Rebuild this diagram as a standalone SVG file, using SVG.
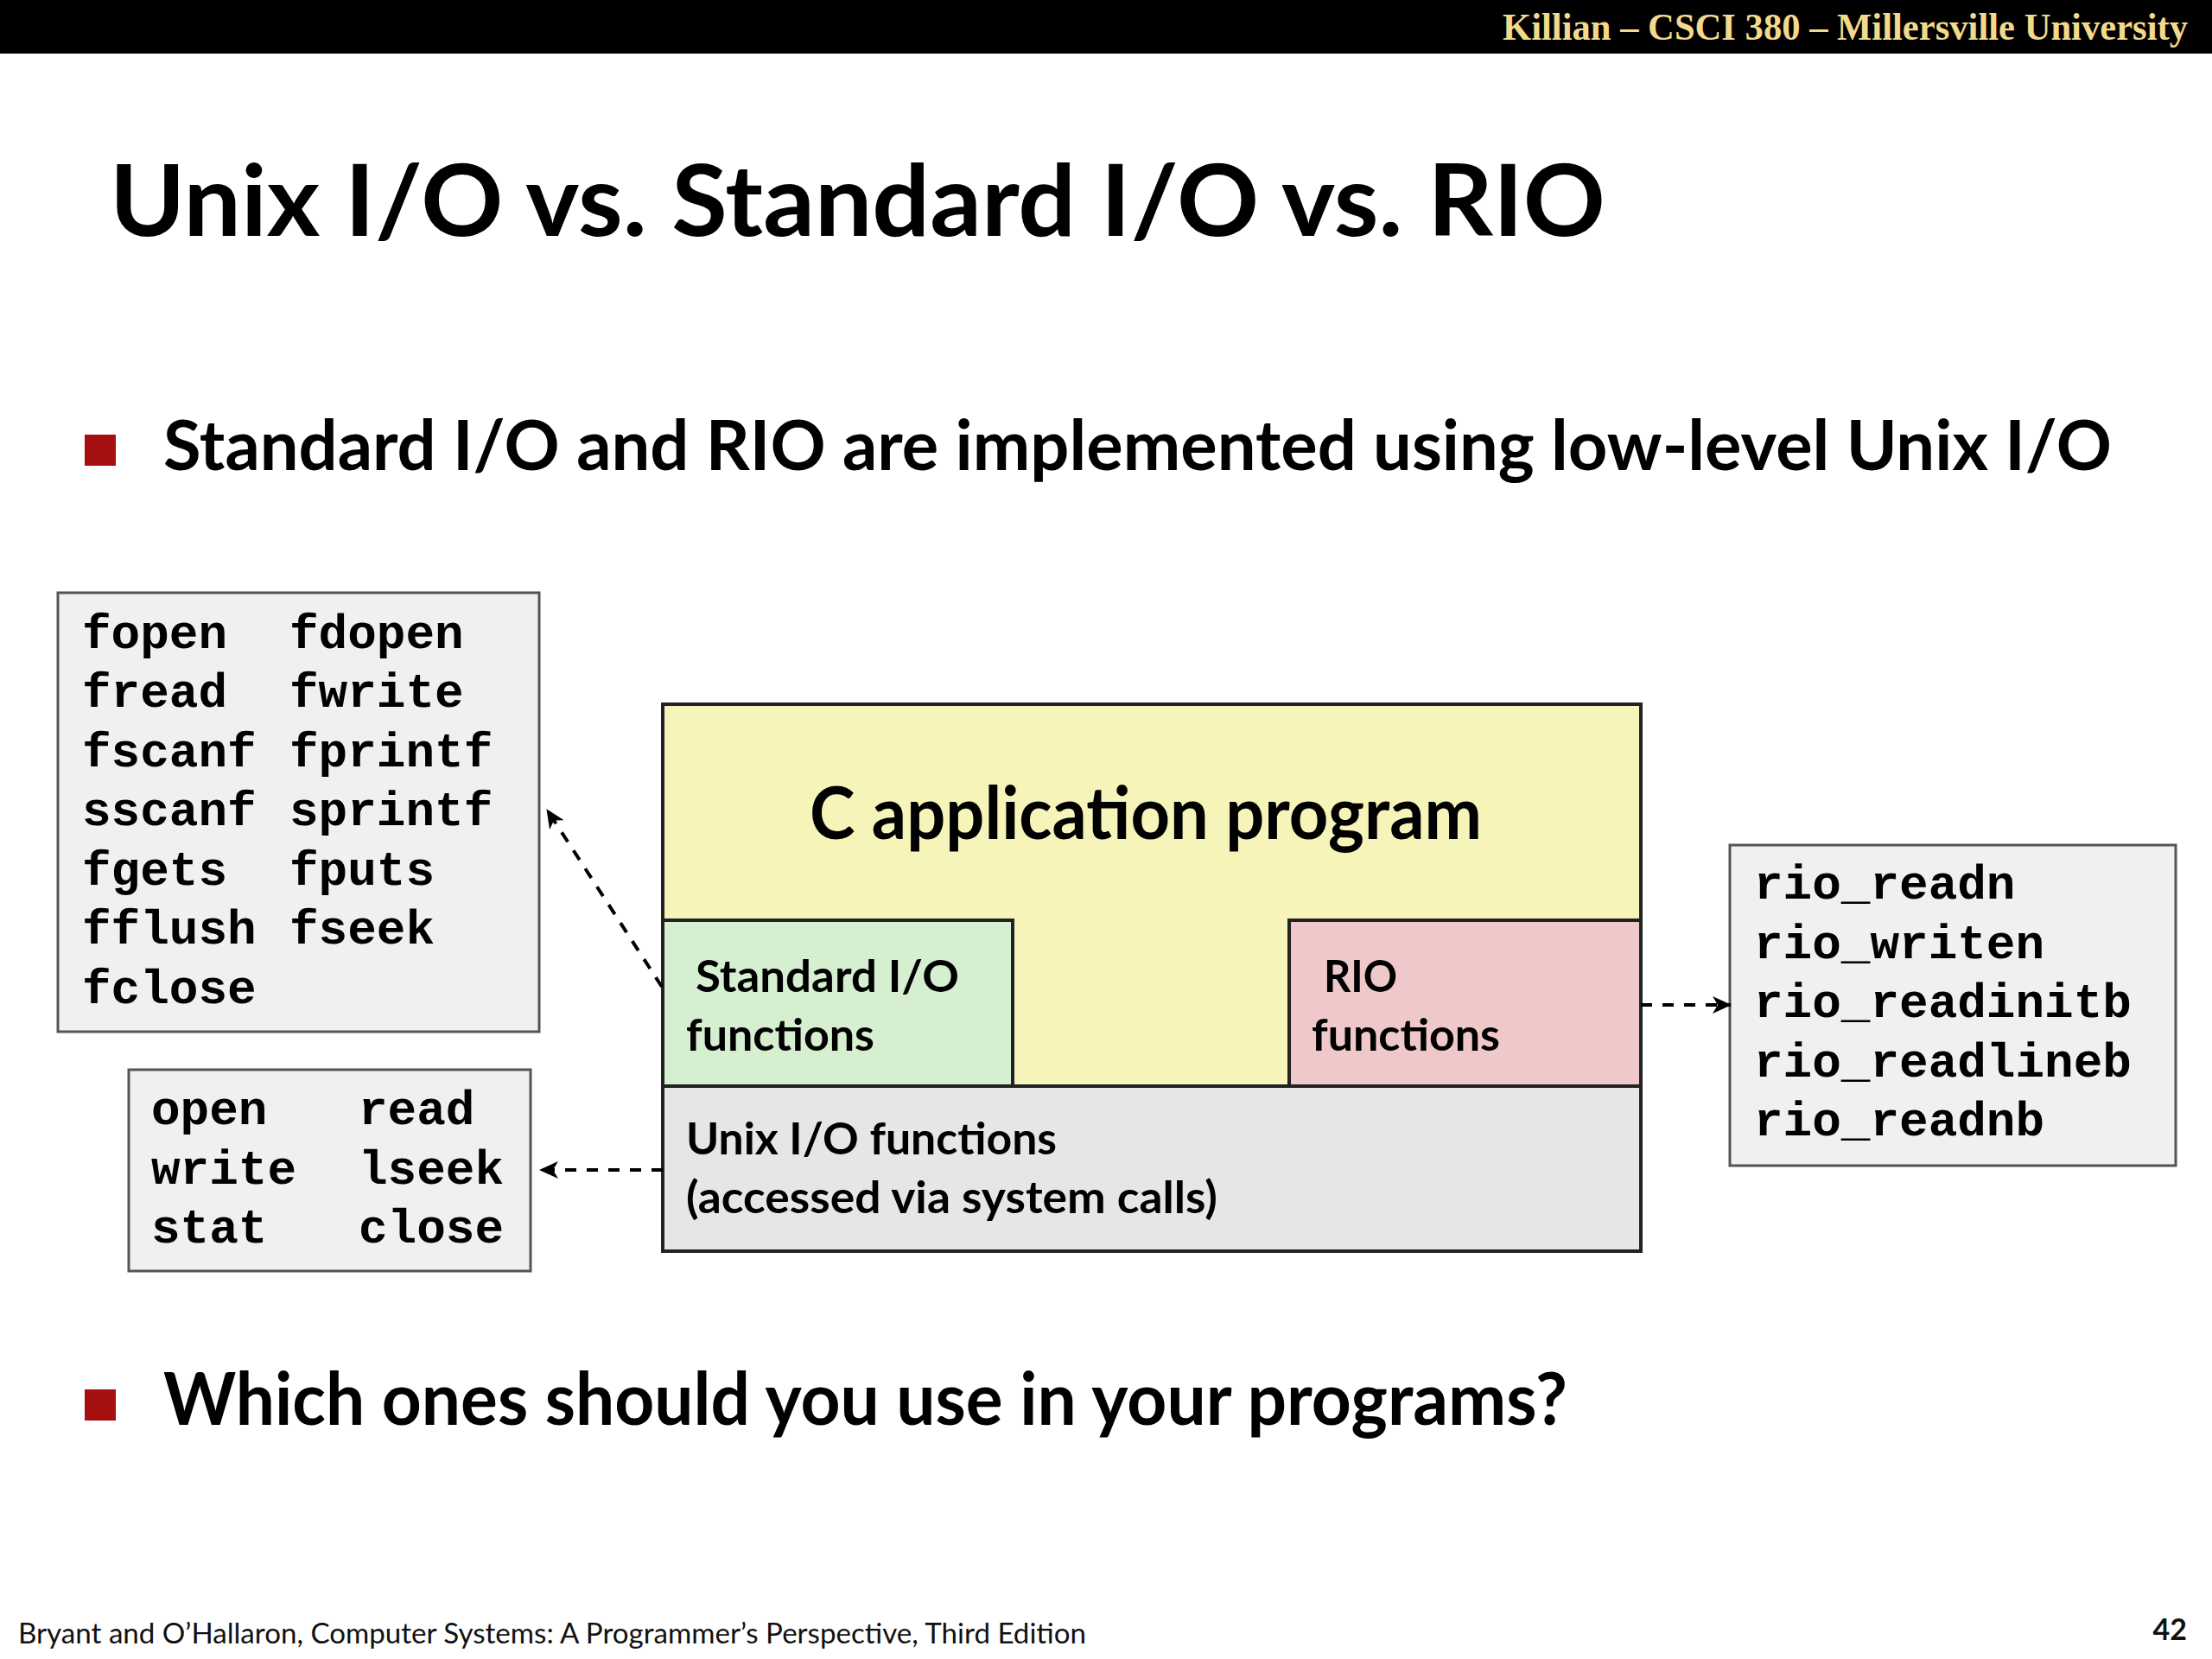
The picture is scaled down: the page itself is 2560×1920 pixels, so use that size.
<svg xmlns="http://www.w3.org/2000/svg" width="2560" height="1920" viewBox="0 0 2560 1920">
<defs>
<style>
.hdr{font-family:"Liberation Serif","Times New Roman",serif;font-weight:bold;fill:#f3d98a}
.sans{font-family:Lato,"Open Sans",sans-serif;font-weight:bold;fill:#000}
.mono{font-family:"Liberation Mono","Courier New",monospace;font-weight:bold;font-size:56px;fill:#000}
.list{fill:#f0f0f0;stroke:#555;stroke-width:3}
.blk{stroke:#222;stroke-width:4}
.conn{stroke:#000;stroke-width:4;stroke-dasharray:13 12;fill:none}
.foot{font-family:Lato,"Open Sans",sans-serif;fill:#111}
</style>
<marker id="ah" viewBox="0 0 22 20" refX="21" refY="10" markerWidth="22" markerHeight="20" orient="auto" markerUnits="userSpaceOnUse">
<path d="M0,0 L22,10 L0,20 L6,10 z" fill="#000"/>
</marker>
</defs>
<rect x="0" y="0" width="2560" height="1920" fill="#fff"/>
<rect x="0" y="0" width="2560" height="62" fill="#000"/>
<text class="hdr" x="2532" y="46" font-size="44" text-anchor="end" textLength="793" lengthAdjust="spacingAndGlyphs">Killian – CSCI 380 – Millersville University</text>

<text class="sans" x="127" y="273" font-size="114" textLength="1731" lengthAdjust="spacingAndGlyphs">Unix I/O vs. Standard I/O vs. RIO</text>

<rect x="98" y="503" width="36" height="36" fill="#a50f0f"/>
<text class="sans" x="189" y="544" font-size="80" textLength="2255" lengthAdjust="spacingAndGlyphs">Standard I/O and RIO are implemented using low-level Unix I/O</text>

<rect x="98" y="1608" width="36" height="36" fill="#a50f0f"/>
<text class="sans" x="189" y="1649" font-size="84" textLength="1625" lengthAdjust="spacingAndGlyphs">Which ones should you use in your programs?</text>

<g id="stdio-list">
<rect class="list" x="67" y="686" width="557" height="508"/>
<text class="mono" x="95" y="750">fopen</text><text class="mono" x="335" y="750">fdopen</text>
<text class="mono" x="95" y="818">fread</text><text class="mono" x="335" y="818">fwrite</text>
<text class="mono" x="95" y="887">fscanf</text><text class="mono" x="335" y="887">fprintf</text>
<text class="mono" x="95" y="955">sscanf</text><text class="mono" x="335" y="955">sprintf</text>
<text class="mono" x="95" y="1024">fgets</text><text class="mono" x="335" y="1024">fputs</text>
<text class="mono" x="95" y="1092">fflush</text><text class="mono" x="335" y="1092">fseek</text>
<text class="mono" x="95" y="1161">fclose</text>
</g>

<g id="unix-list">
<rect class="list" x="149" y="1238" width="465" height="233"/>
<text class="mono" x="175" y="1301">open</text><text class="mono" x="415" y="1301">read</text>
<text class="mono" x="175" y="1370">write</text><text class="mono" x="415" y="1370">lseek</text>
<text class="mono" x="175" y="1438">stat</text><text class="mono" x="415" y="1438">close</text>
</g>

<g id="rio-list">
<rect class="list" x="2002" y="978" width="516" height="371"/>
<text class="mono" x="2030" y="1040">rio_readn</text>
<text class="mono" x="2030" y="1109">rio_writen</text>
<text class="mono" x="2030" y="1177">rio_readinitb</text>
<text class="mono" x="2030" y="1246">rio_readlineb</text>
<text class="mono" x="2030" y="1314">rio_readnb</text>
</g>

<g id="c-app">
<rect class="blk" x="767" y="815" width="1132" height="442" fill="#f6f4b9"/>
<text class="sans" x="1326" y="971" font-size="84" text-anchor="middle" textLength="778" lengthAdjust="spacingAndGlyphs">C application program</text>
</g>

<g id="stdio-fn">
<rect class="blk" x="767" y="1065" width="405" height="192" fill="#d6efd0"/>
<text class="sans" x="805" y="1148" font-size="52" textLength="305" lengthAdjust="spacingAndGlyphs">Standard I/O</text>
<text class="sans" x="794" y="1216" font-size="52" textLength="218" lengthAdjust="spacingAndGlyphs">functions</text>
</g>

<g id="rio-fn">
<rect class="blk" x="1492" y="1065" width="407" height="192" fill="#efc9c9"/>
<text class="sans" x="1532" y="1148" font-size="52" textLength="85" lengthAdjust="spacingAndGlyphs">RIO</text>
<text class="sans" x="1518" y="1216" font-size="52" textLength="218" lengthAdjust="spacingAndGlyphs">functions</text>
</g>

<g id="unix-fn">
<rect class="blk" x="767" y="1257" width="1132" height="191" fill="#e6e6e6"/>
<text class="sans" x="794" y="1336" font-size="52" textLength="429" lengthAdjust="spacingAndGlyphs">Unix I/O functions</text>
<text class="sans" x="794" y="1404" font-size="52" textLength="615" lengthAdjust="spacingAndGlyphs">(accessed via system calls)</text>
</g>

<g id="connectors">
<path class="conn" d="M766,1142 L633,937" marker-end="url(#ah)"/>
<path class="conn" d="M1899,1163 L2003,1163" marker-end="url(#ah)"/>
<path class="conn" d="M767,1354 L625,1354" marker-end="url(#ah)"/>
</g>

<text class="foot" x="21" y="1902" font-size="32" textLength="1236" lengthAdjust="spacingAndGlyphs">Bryant and O’Hallaron, Computer Systems: A Programmer’s Perspective, Third Edition</text>
<text class="foot" x="2531" y="1898" font-size="34" font-weight="bold" text-anchor="end">42</text>
</svg>
